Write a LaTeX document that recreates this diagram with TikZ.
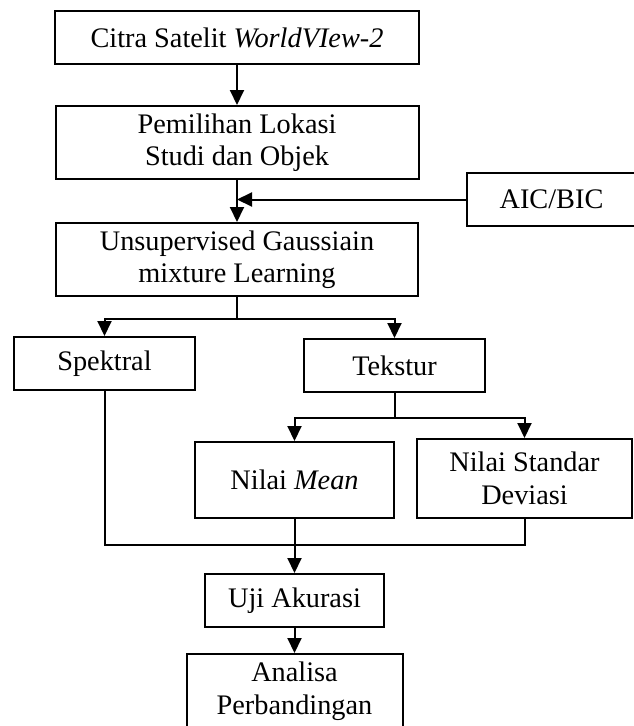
\documentclass[tikz,border=0pt]{standalone}
\usepackage{fontspec}
\setmainfont{Liberation Serif}
\usetikzlibrary{arrows.meta,positioning,calc}

\begin{document}
\begin{tikzpicture}[
    x=1pt, y=-1pt,
    node distance=40pt,
    box/.style={draw, rectangle, line width=2pt, align=center, inner sep=0pt, font=\fontsize{28.3}{32.5}\selectfont},
    arrow/.style={-{Triangle[length=15pt,width=14pt]}, line width=2pt},
    line/.style={line width=2pt}
]
    \useasboundingbox (0,0) rectangle (634,726);

    % Nodes
    \node[box, minimum width=364pt, minimum height=53pt] (citra) at (237,37.5) {Citra Satelit \textit{WorldVIew-2}};
    \node[box, minimum width=363pt, minimum height=73pt, below=40pt of citra] (pilih) {Pemilihan Lokasi \\ Studi dan Objek};
    \node[box, minimum width=362pt, minimum height=73pt, below=42pt of pilih] (ugm) {Unsupervised Gaussiain \\ mixture Learning};
    \node[box, minimum width=170pt, minimum height=53pt, anchor=north west, below right=-8pt and 46pt of pilih.south east] (aic) {AIC/BIC};

    \node[box, minimum width=181pt, minimum height=53pt] (spek) at (104.5,363.5) {Spektral};
    \node[box, minimum width=181pt, minimum height=53pt] (teks) at (394.5,365.5) {Tekstur};

    \node[box, minimum width=199pt, minimum height=76pt] (mean) at (294.5,480) {Nilai \textit{Mean}};
    \node[box, minimum width=215pt, minimum height=79pt] (sd) at (524.5,478.5) {Nilai Standar \\ Deviasi};

    \node[box, minimum width=179pt, minimum height=53pt, below=54pt of mean] (uji) {Uji Akurasi};
    \node[box, minimum width=216pt, minimum height=74pt, below=25pt of uji] (analisa) {Analisa \\ Perbandingan};

    % Split points
    \coordinate (split1) at ($(ugm.south)+(0,22)$);
    \coordinate (split2) at ($(teks.south)+(0,25)$);
    \coordinate (join) at ($(spek.south)+(0,154)$);

    % Arrows
    \draw[arrow] (citra) -- (pilih);
    \draw[arrow] (pilih) -- (ugm);
    \draw[arrow] (aic) -- (aic -| pilih.south);

    \draw[line] (ugm) -- (split1);
    \draw[arrow] (split1) -| (spek.north);
    \draw[arrow] (split1) -| (teks.north);

    \draw[line] (teks) -- (split2);
    \draw[arrow] (split2) -| (mean.north);
    \draw[arrow] (split2) -| (sd.north);

    \draw[line] (spek) -- (join) -| (sd.south);
    \draw[arrow] (mean) -- (uji);
    \draw[arrow] (uji) -- (analisa);

\end{tikzpicture}
\end{document}
